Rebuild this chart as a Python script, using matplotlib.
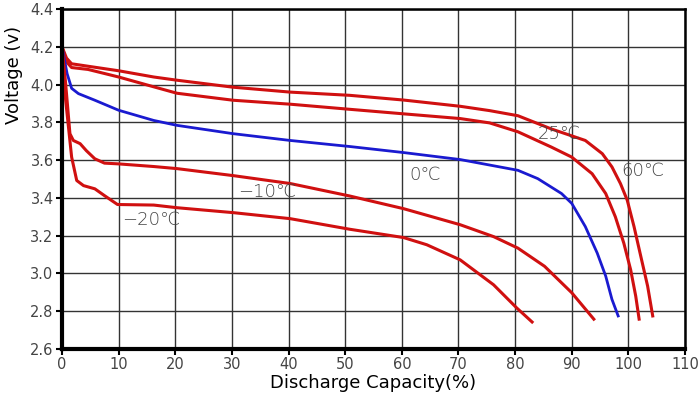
import matplotlib
matplotlib.use("Agg")
import matplotlib.pyplot as plt

# --- DATOS ---
x_60 = [0, 0.8, 1.7, 4.6, 10.0, 16.2, 20.3, 30.2, 40.3, 50.8, 60.3, 70.3, 75.5, 80.5, 86.4, 92.4, 95.4, 97.1, 98.6, 99.8, 101.0, 102.2, 103.4, 104.3]
y_60 = [4.20, 4.14, 4.11, 4.097, 4.073, 4.04, 4.023, 3.986, 3.96, 3.943, 3.918, 3.885, 3.862, 3.835, 3.765, 3.704, 3.634, 3.564, 3.476, 3.388, 3.248, 3.09, 2.933, 2.775]

x_25 = [0, 0.8, 1.7, 4.6, 10.0, 16.2, 20.3, 30.2, 40.3, 50.8, 60.3, 70.3, 75.5, 80.5, 86.4, 90.0, 93.6, 96.0, 97.7, 99.2, 100.4, 101.3, 101.9]
y_25 = [4.20, 4.12, 4.09, 4.08, 4.04, 3.988, 3.954, 3.917, 3.896, 3.869, 3.845, 3.82, 3.797, 3.75, 3.669, 3.616, 3.528, 3.423, 3.30, 3.16, 3.02, 2.88, 2.758]

x_0 = [0, 0.9, 1.7, 2.9, 5.8, 10.0, 16.2, 20.3, 30.2, 40.3, 50.8, 60.3, 70.3, 80.5, 84.0, 88.2, 90.0, 92.4, 94.5, 96.0, 97.1, 98.2]
y_0 = [4.20, 4.058, 3.98, 3.952, 3.917, 3.864, 3.81, 3.784, 3.74, 3.704, 3.672, 3.64, 3.603, 3.546, 3.502, 3.423, 3.371, 3.248, 3.108, 2.986, 2.863, 2.775]

x_m10 = [0, 0.6, 1.4, 2.0, 3.2, 4.3, 5.8, 7.5, 10.0, 16.2, 20.3, 30.2, 40.3, 50.8, 60.3, 70.3, 76.2, 80.5, 85.2, 90.0, 93.9]
y_m10 = [4.20, 4.02, 3.74, 3.704, 3.687, 3.65, 3.607, 3.584, 3.58, 3.566, 3.555, 3.518, 3.476, 3.41, 3.343, 3.258, 3.195, 3.134, 3.038, 2.898, 2.758]

x_m20 = [0, 0.6, 1.7, 2.6, 3.8, 5.8, 7.5, 9.8, 16.2, 20.3, 30.2, 40.3, 50.8, 60.3, 64.4, 70.3, 76.2, 80.3, 83.0]
y_m20 = [4.20, 3.93, 3.616, 3.492, 3.465, 3.448, 3.412, 3.365, 3.362, 3.348, 3.322, 3.29, 3.234, 3.19, 3.152, 3.072, 2.94, 2.817, 2.743]

etiquetas = ["60℃", "25℃", "0℃", "−10℃", "−20℃"]
pos_etiquetas = [(98.8, 3.545), (84.0, 3.737), (61.4, 3.522), (31.1, 3.43), (10.6, 3.284)]

x_ticks = list(range(0, 111, 10))
y_ticks = [2.6, 2.8, 3.0, 3.2, 3.4, 3.6, 3.8, 4.0, 4.2, 4.4]

ROJO = "#d01010"
AZUL = "#1a1ad0"

fig = plt.figure(figsize=(7, 3.94), dpi=100)
ax = fig.add_axes([62 / 700, 45 / 394, 623 / 700, 340 / 394])

ax.plot(x_60, y_60, color=ROJO, lw=2.2)
ax.plot(x_25, y_25, color=ROJO, lw=2.2)
ax.plot(x_0, y_0, color=AZUL, lw=2.0)
ax.plot(x_m10, y_m10, color=ROJO, lw=2.2)
ax.plot(x_m20, y_m20, color=ROJO, lw=2.2)

for texto, (tx, ty) in zip(etiquetas, pos_etiquetas):
    ax.text(tx, ty, texto, fontsize=13, color="#444444", ha="left", va="center",
            fontweight="light")

ax.set_xlim(0, 110)
ax.set_ylim(2.6, 4.4)
ax.set_xticks(x_ticks)
ax.set_yticks(y_ticks)
ax.set_yticklabels([f"{v:.1f}" for v in y_ticks])
ax.grid(True, color="#333333", lw=1.0)
ax.set_axisbelow(True)

for lado in ["left", "bottom"]:
    ax.spines[lado].set_linewidth(3)
for lado in ["top", "right"]:
    ax.spines[lado].set_linewidth(1.8)

ax.tick_params(axis="both", labelsize=10.5, labelcolor="#444444", length=4, width=1.5, pad=2)
ax.set_xlabel("Discharge Capacity(%)", fontsize=13, labelpad=1)
ax.set_ylabel("Voltage (v)", fontsize=13)
ax.yaxis.set_label_coords(-0.063, 0.806)

plt.savefig("out.png", dpi=100)
